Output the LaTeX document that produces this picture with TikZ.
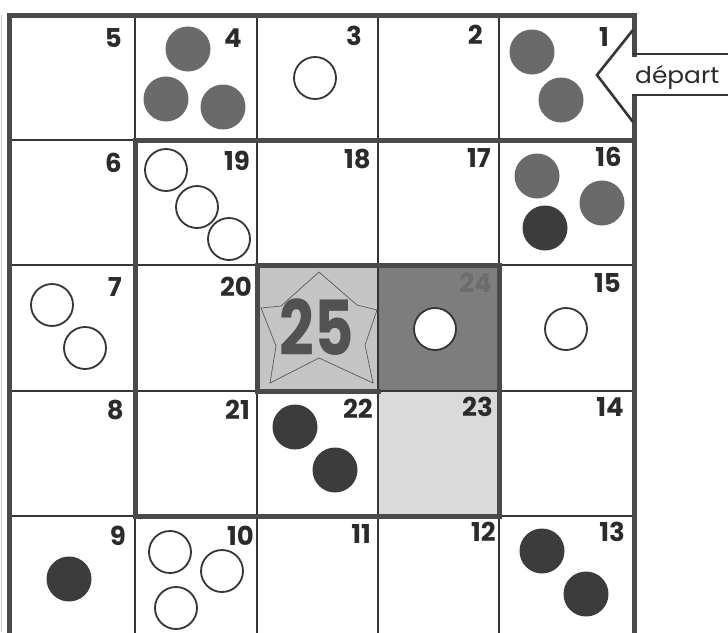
\documentclass[tikz,border=0pt]{standalone}
\usepackage{fontspec}
\newfontfamily\numfont{Poppins}
\newfontfamily\txtfont{Poppins}
\definecolor{thickc}{HTML}{4A4A4A}
\definecolor{thinc}{HTML}{353535}
\definecolor{c25}{HTML}{C4C4C4}
\definecolor{c24}{HTML}{7D7D7D}
\definecolor{c23}{HTML}{DADADA}
\definecolor{gdot}{HTML}{6A6A6A}
\definecolor{ddot}{HTML}{3C3C3C}
\definecolor{numc}{HTML}{2B2B2B}
\tikzset{
  thinline/.style={draw=thinc,line width=1.6pt},
  thickline/.style={draw=thickc,line width=5pt},
  wc/.style={draw=thinc,line width=1.8pt,fill=white},
  gc/.style={fill=gdot},
  dc/.style={fill=ddot},
  num/.style={anchor=east,inner sep=0pt,text=numc,font=\numfont\bfseries\fontsize{26}{26}\selectfont},
}
\begin{document}
\begin{tikzpicture}[x=1pt,y=-1pt]
\useasboundingbox (0,0) rectangle (728,632);
\fill[white] (0,0) rectangle (728,632);
\clip (0,0) rectangle (728,632);
% coordinates of grid
\def\Xa{9}\def\Xb{135}\def\Xc{257}\def\Xd{378}\def\Xe{499}\def\Xf{634}
\def\Ya{15}\def\Yb{140}\def\Yc{265}\def\Yd{391}\def\Ye{516}\def\Yf{645}
% coloured cells
\fill[c25] (\Xc,\Yc) rectangle (\Xd,\Yd);
\fill[c24] (\Xd,\Yc) rectangle (\Xe,\Yd);
\fill[c23] (\Xd,\Yd) rectangle (\Xe,\Ye);
% star in cell 25
\draw[gray!70!black,line width=0.7pt]
  (319,272) -- (357,305) -- (377,310) -- (365,345) -- (373,383) -- (319,358)
  -- (270,383) -- (276,346) -- (261,308) -- (281,306) -- cycle;
% thin grid lines
\foreach \x in {\Xb,\Xc,\Xd,\Xe} \draw[thinline] (\x,\Ya) -- (\x,\Yf);
\foreach \y in {\Yb,\Yc,\Yd,\Ye} \draw[thinline] (\Xa,\y) -- (\Xf,\y);
% faint scan edge
\draw[gray!45,line width=1.2pt] (1.5,15) -- (1.5,632);
% arrow background
\fill[white] (597,75) -- (633,32) -- (633,54) -- (730,54) -- (730,95) -- (633,95) -- (633,120) -- cycle;
% outer border
\draw[thickline,line cap=rect] (\Xa,\Yf) -- (\Xa,\Ya) -- (\Xf,\Ya) -- (\Xf,54);
\draw[thickline] (\Xf,95) -- (\Xf,\Yf);
% spiral wall
\draw[thickline,line cap=rect,line join=miter]
  (\Xf,\Yb) -- (\Xb,\Yb) -- (\Xb,\Ye) -- (\Xe,\Ye) -- (\Xe,\Yc) -- (\Xc,\Yc) -- (\Xc,\Yd) -- (\Xd,\Yd);
% arrow outline
\draw[thinc,line width=2.6pt,line join=miter] (633,30) -- (597,75) -- (633,122);
\draw[thinc,line width=2.6pt] (632,54) -- (730,54);
\draw[thinc,line width=2.6pt] (632,95) -- (730,95);
\node[anchor=base west,inner sep=0pt,text=numc,font=\txtfont\fontsize{23}{23}\selectfont,xscale=1.08] (dep) at (635,83) {départ};
% counters
\foreach \p in {(188,49),(166,99),(223,107),(532,52),(561,100),(537,176),(602,203)}
  \fill[gc] \p circle[radius=22.5pt];
\foreach \p in {(545,228),(295,427),(335,470),(69,579),(542,551),(586,594)}
  \fill[dc] \p circle[radius=22.5pt];
\foreach \p in {(315,78),(166,170),(197,207),(229,239),(52,305),(85,348),(566,329),(435,329),(170,552),(222,571),(176,608)}
  \draw[wc] \p circle[radius=21pt];
% numbers
\node[num] (n1) at (609,37) {1};
\node[num] (n2) at (483,35) {2};
\node[num] (n3) at (362,36) {3};
\node[num] (n4) at (242,38) {4};
\node[num] (n5) at (122,38) {5};
\node[num] (n6) at (122,163) {6};
\node[num] (n19) at (250,161) {19};
\node[num] (n18) at (371,159) {18};
\node[num] (n17) at (491,158) {17};
\node[num] (n16) at (622,157) {16};
\node[num] (n7) at (122,287) {7};
\node[num] (n20) at (252,287) {20};
\node[num,text=gray!85!black] (n24) at (492,283) {24};
\node[num] (n15) at (621,283) {15};
\node[num] (n8) at (124,410) {8};
\node[num] (n21) at (250,410) {21};
\node[num] (n22) at (373,409) {22};
\node[num] (n23) at (493,407) {23};
\node[num] (n14) at (624,407) {14};
\node[num] (n9) at (126,536) {9};
\node[num] (n10) at (254,536) {10};
\node[num] (n11) at (371,534) {11};
\node[num] (n12) at (496,532) {12};
\node[num] (n13) at (625,532) {13};
\node[inner sep=0pt,text=black!68,font=\txtfont\bfseries\fontsize{76}{76}\selectfont,xscale=0.8] (n25) at (317,327) {25};
\end{tikzpicture}
\end{document}
